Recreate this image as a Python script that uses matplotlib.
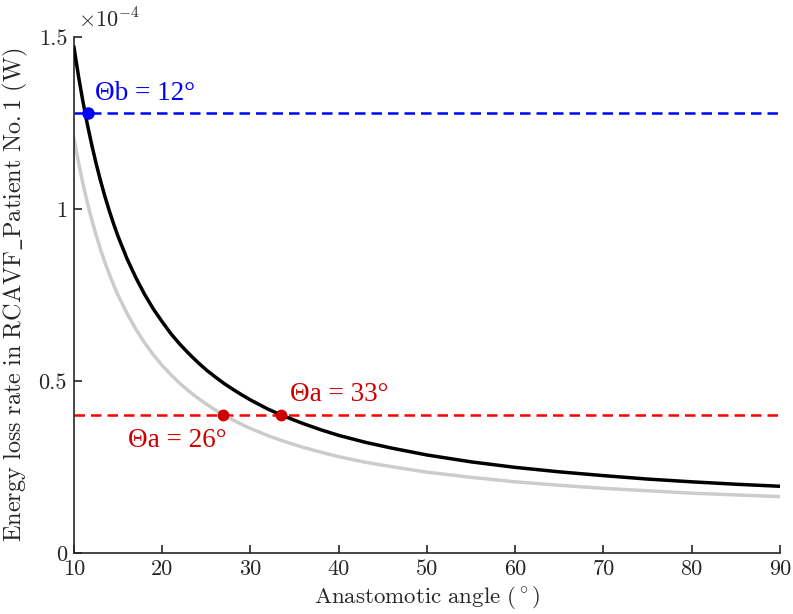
import matplotlib
matplotlib.use("Agg")
import matplotlib.pyplot as plt
from matplotlib.ticker import FuncFormatter, FixedLocator

plt.rcParams['font.family'] = 'serif'
plt.rcParams['font.serif'] = ['cmr10']
plt.rcParams['mathtext.fontset'] = 'cm'
plt.rcParams['axes.unicode_minus'] = False

SCALE = 1e-4

# Anastomotic angles sampled (degrees)
angle_black = [10, 10.5, 11, 11.5, 12, 12.5, 13, 13.5, 14, 14.5, 15, 16, 17, 18, 19, 20, 21,
               22, 23, 24, 25, 26, 27, 28, 29, 30, 32, 34, 36, 38, 40, 43, 46, 50, 55, 60,
               65, 70, 75, 80, 85, 90]
# Black curve (RCAVF patient No.1), values in units of 1e-4 W
loss_black = [1.470, 1.388, 1.314, 1.248, 1.188, 1.133, 1.083, 1.037, 0.995, 0.956, 0.920,
              0.856, 0.801, 0.752, 0.709, 0.672, 0.637, 0.607, 0.580, 0.555, 0.532, 0.512,
              0.493, 0.476, 0.460, 0.445, 0.418, 0.396, 0.376, 0.358, 0.342, 0.322, 0.305,
              0.285, 0.265, 0.249, 0.236, 0.225, 0.215, 0.207, 0.200, 0.194]

angle_gray = [10, 10.5, 11, 11.5, 12, 12.5, 13, 13.5, 14, 14.5, 15, 16, 17, 18, 19, 20, 21,
              22, 23, 24, 25, 26, 27, 28, 29, 30, 32, 34, 36, 38, 40, 43, 46, 50, 55, 60,
              65, 70, 75, 80, 85, 90]
# Gray curve, values in units of 1e-4 W
loss_gray = [1.205, 1.137, 1.075, 1.020, 0.970, 0.925, 0.883, 0.845, 0.811, 0.779, 0.749,
             0.697, 0.651, 0.611, 0.576, 0.545, 0.518, 0.493, 0.471, 0.451, 0.433, 0.416,
             0.401, 0.387, 0.374, 0.362, 0.341, 0.323, 0.307, 0.293, 0.280, 0.264, 0.251,
             0.235, 0.220, 0.207, 0.197, 0.188, 0.181, 0.174, 0.169, 0.164]

# Threshold lines
theta_b_level = 1.28
theta_a_level = 0.40

# Marked points
point_b = (11.55, 1.28)
points_a = [(26.9, 0.40), (33.5, 0.40)]

label_b = '\u0398b = 12\u00b0'
label_a_black = '\u0398a = 33\u00b0'
label_a_gray = '\u0398a = 26\u00b0'

xticks = [10, 20, 30, 40, 50, 60, 70, 80, 90]
yticks = [0, 0.5, 1, 1.5]

fig = plt.figure(figsize=(7.93, 6.14), dpi=100)
ax = fig.add_axes([0.0933, 0.0993, 0.8903, 0.8404])

ax.plot(angle_gray, [v * SCALE for v in loss_gray], color='#cccccc', lw=2.5, zorder=2,
        solid_joinstyle='round')
ax.plot(angle_black, [v * SCALE for v in loss_black], color='black', lw=2.5, zorder=3,
        solid_joinstyle='round')

ax.axhline(theta_b_level * SCALE, color='#0000ff', lw=1.8, dashes=(4.2, 2.4), zorder=1)
ax.axhline(theta_a_level * SCALE, color='#ff0000', lw=1.8, dashes=(4.2, 2.4), zorder=1)

ax.plot([point_b[0]], [point_b[1] * SCALE], 'o', color='#0000ff', ms=8, zorder=5)
ax.plot([p[0] for p in points_a], [p[1] * SCALE for p in points_a], 'o',
        color='#cc0000', ms=7.5, zorder=5)

tfont = dict(family=['Liberation Serif', 'DejaVu Serif'], fontsize=19.5)
ax.text(12.4, 1.337 * SCALE, label_b, color='#0000ff', va='center', ha='left', **tfont)
ax.text(34.5, 0.462 * SCALE, label_a_black, color='#cc0000', va='center', ha='left', **tfont)
ax.text(16.1, 0.327 * SCALE, label_a_gray, color='#cc0000', va='center', ha='left', **tfont)

ax.set_xlim(10, 90)
ax.set_ylim(0, 1.5 * SCALE)
ax.xaxis.set_major_locator(FixedLocator(xticks))
ax.yaxis.set_major_locator(FixedLocator([v * SCALE for v in yticks]))
ax.yaxis.set_major_formatter(FuncFormatter(lambda v, p: f'{v / SCALE:g}'))

for s in ['top', 'right']:
    ax.spines[s].set_visible(False)
for s in ['left', 'bottom']:
    ax.spines[s].set_color('#262626')
    ax.spines[s].set_linewidth(1.2)

ax.tick_params(direction='in', length=6, width=1.2, colors='#262626', labelsize=16)
ax.tick_params(axis='x', pad=5)
ax.tick_params(axis='y', pad=5)

ax.text(0.006, 1.01, r'$\times10^{-4}$', transform=ax.transAxes, fontsize=16,
        color='#262626', ha='left', va='bottom')

ax.set_xlabel(r'$\mathrm{Anastomotic\ angle\ (^\circ)}$', fontsize=16.5, color='#262626',
              labelpad=3)
ax.set_ylabel(r'$\mathrm{Energy\ loss\ rate\ in\ RCAVF\_Patient\ No.1\ (W)}$', fontsize=17.5,
              color='#262626', labelpad=6)

fig.savefig('out.png', dpi=100)
